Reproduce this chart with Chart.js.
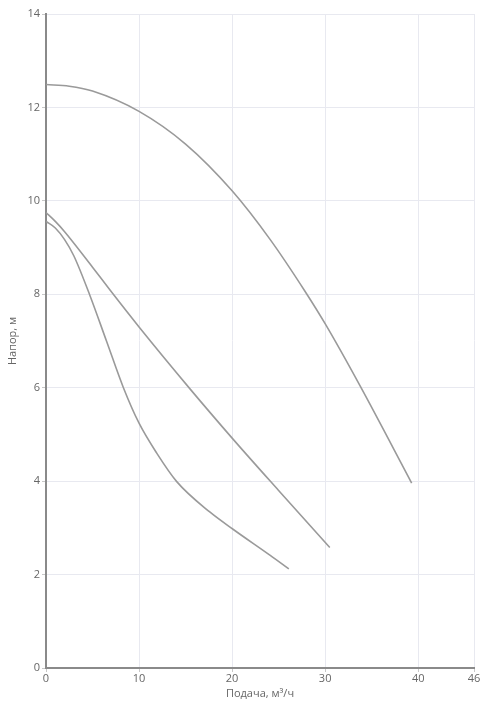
<!DOCTYPE html>
<html><head><meta charset="utf-8">
<script src="https://cdn.jsdelivr.net/npm/chart.js@4/dist/chart.umd.min.js"></script>
<style>html,body{margin:0;padding:0;background:#fff}#wrap{width:488px;height:722px}</style>
</head><body><div id="wrap"><canvas id="c" width="488" height="722"></canvas></div>
<script>
const xTicks = [0, 10, 20, 30, 40, 46];
const curveTop = [[0,12.49],[2.5,12.455],[5,12.35],[10,11.915],[15,11.215],[20,10.215],[24.1,9.17],[27.85,8.06],[30.03,7.36],[33.7,6.06],[39.3,3.96]];
const curveMid = [[0,9.75],[1,9.56],[2,9.34],[5,8.58],[6.88,8.09],[10,7.3],[15.5,5.97],[20.1,4.9],[25,3.8],[30.5,2.58]];
const curveLow = [[0,9.56],[1,9.42],[2,9.17],[3,8.82],[4.73,7.97],[6.5,7.0],[8.32,6.0],[10,5.24],[11.9,4.6],[14.05,3.99],[17.6,3.34],[20.1,2.97],[24.1,2.41],[26.1,2.12]];
const xTitle = 'Подача, м³/ч';
const yTitle = 'Напор, м';

const toPts = a => a.map(p => ({x: p[0], y: p[1]}));
const lineStyle = {borderColor:'#9a9a9a', borderWidth:1.6, pointRadius:0, fill:false, cubicInterpolationMode:'monotone'};
const font = {family:'Open Sans', size:11};
new Chart(document.getElementById('c'), {
  type:'line',
  data:{datasets:[
    Object.assign({data:toPts(curveTop)}, lineStyle),
    Object.assign({data:toPts(curveMid)}, lineStyle),
    Object.assign({data:toPts(curveLow)}, lineStyle)
  ]},
  options:{
    responsive:false, animation:false,
    layout:{padding:{top:14,right:14,left:6,bottom:22}},
    plugins:{legend:{display:false},tooltip:{enabled:false}},
    scales:{
      x:{type:'linear', min:0, max:46,
        afterBuildTicks:s=>{s.ticks = xTicks.map(v=>({value:v}));},
        afterFit:s=>{s.height=32;},
        border:{color:'#8a8a8a', width:2},
        grid:{color:'#e8e9f0', lineWidth:1, tickLength:4, tickColor:'#c8c8c8'},
        ticks:{color:'#666', font:font, padding:0, maxRotation:0, autoSkip:false},
        title:{display:true, text:xTitle, color:'#666', font:font, padding:{top:0,bottom:0}}
      },
      y:{type:'linear', min:0, max:14,
        afterFit:s=>{s.width=40;},
        border:{color:'#8a8a8a', width:2},
        grid:{color:'#e8e9f0', lineWidth:1, tickLength:4, tickColor:'#c8c8c8'},
        ticks:{stepSize:2, color:'#666', font:font, padding:2},
        title:{display:true, text:yTitle, color:'#666', font:font, padding:{top:0,bottom:4}}
      }
    }
  }
});
</script></body></html>
